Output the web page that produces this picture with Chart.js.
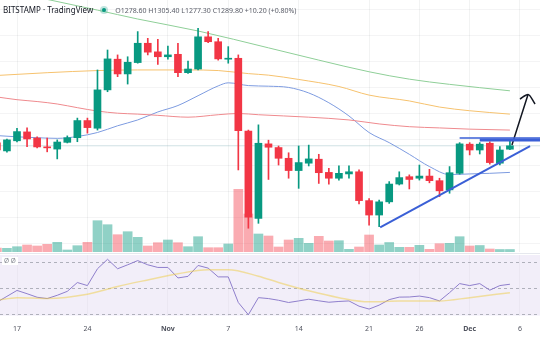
<!DOCTYPE html>
<html lang="en">
<head>
  <meta charset="UTF-8" />
  <title>BITSTAMP daily candles</title>
  <script src="https://cdn.jsdelivr.net/npm/chart.js"></script>
  <style>
    body { margin: 0; background: #fff; font-family: 'Noto Sans', sans-serif; }
    #wrap { position: relative; width: 540px; height: 340px; overflow: hidden; background: #fff; }
    #priceChart { position: absolute; left: 0; top: 0; }
    #rsiChart { position: absolute; left: 0; top: 255px; }
    .sep { position: absolute; left: 0; top: 253px; width: 540px; height: 1px; background: #e6e8ee; }
    .legend { position: absolute; left: 3px; top: 4px; font-size: 8px; line-height: 12px; color: #131722; white-space: nowrap; }
    .dot { display: inline-block; width: 4px; height: 4px; border-radius: 50%; background: #089981;
           box-shadow: 0 0 0 2px rgba(8,153,129,0.25); margin: 0 0 1px 9px; vertical-align: middle; }
    .ohlc { font-size: 7px; color: #5d606b; margin-left: 9px; }
    .rsiTag { position: absolute; left: 2px; top: 257px; font-size: 6.5px; line-height: 8px; color: #8a8d96;
              background: #fff; padding: 0 2px; }
  </style>
</head>
<body>
<div id="wrap">
  <canvas id="priceChart" width="540" height="252"></canvas>
  <div class="sep"></div>
  <canvas id="rsiChart" width="540" height="92"></canvas>
  <div class="legend">BITSTAMP · TradingView<span class="dot"></span><span class="ohlc">O1278.60 H1305.40 L1277.30 C1289.80 +10.20 (+0.80%)</span></div>
  <div class="rsiTag">Ø Ø</div>
</div>

<script>
  // day index, 0 = Oct 17
  const days = [-2, -1, 0, 1, 2, 3, 4, 5, 6, 7, 8, 9, 10, 11, 12, 13, 14, 15, 16, 17, 18, 19, 20, 21, 22, 23, 24, 25,
                26, 27, 28, 29, 30, 31, 32, 33, 34, 35, 36, 37, 38, 39, 40, 41, 42, 43, 44, 45, 46, 47, 48, 49];
  const opens  = [1299, 1273, 1306, 1335, 1315, 1286, 1279, 1301, 1316, 1372, 1347, 1472, 1572, 1524, 1561, 1624, 1596, 1580,
                  1588, 1528, 1540, 1645, 1629, 1572, 1575, 1338, 1053, 1296, 1284, 1249, 1209, 1233, 1246, 1203, 1184, 1198,
                  1205, 1111, 1064, 1107, 1165, 1189, 1184, 1191, 1176, 1146, 1200, 1295, 1276, 1298, 1233, 1278.6];
  const highs  = [1305, 1312, 1347, 1348, 1319, 1315, 1309, 1322, 1380, 1380, 1537, 1602, 1586, 1580, 1662, 1640, 1637, 1615,
                  1624, 1566, 1673, 1662, 1640, 1613, 1586, 1341, 1358, 1308, 1289, 1267, 1289, 1292, 1262, 1216, 1224, 1224,
                  1211, 1118, 1113, 1173, 1205, 1195, 1227, 1213, 1184, 1222, 1300, 1300, 1300, 1303, 1287, 1305.4];
  const lows   = [1269, 1269, 1302, 1287, 1283, 1270, 1247, 1299, 1303, 1331, 1341, 1466, 1515, 1491, 1559, 1586, 1555, 1572,
                  1515, 1526, 1537, 1626, 1569, 1559, 1211, 1021, 1037, 1180, 1227, 1184, 1151, 1224, 1167, 1165, 1178, 1184,
                  1100, 1031, 1026, 1102, 1162, 1149, 1178, 1169, 1124, 1135, 1197, 1260, 1263, 1230, 1227, 1277.3];
  const closes = [1276, 1309, 1336, 1312, 1286, 1283, 1302, 1316, 1372, 1349, 1472, 1573, 1524, 1562, 1624, 1595, 1580, 1586,
                  1528, 1540, 1645, 1629, 1573, 1575, 1339, 1057, 1298, 1285, 1249, 1209, 1235, 1247, 1202, 1184, 1200, 1205,
                  1111, 1064, 1107, 1165, 1186, 1180, 1191, 1176, 1143, 1202, 1296, 1276, 1295, 1235, 1276, 1289.8];
  // volume, thousands
  const volumes = [4.0, 3.7, 5.3, 7.0, 6.0, 7.7, 9.7, 2.0, 6.3, 9.7, 31.3, 27.3, 17.3, 20.3, 14.7, 6.0, 9.3, 12.0,
                   9.3, 5.3, 15.3, 4.3, 4.3, 8.0, 62.7, 38.0, 18.0, 16.0, 5.0, 12.0, 13.7, 8.7, 15.7, 11.0, 11.3, 2.7,
                   5.0, 17.0, 7.0, 9.5, 4.7, 4.7, 6.7, 2.7, 8.3, 8.7, 15.3, 6.0, 6.5, 3.0, 2.5, 2.5];

  const ma20Days = [-2, 0, 2, 4, 6, 8, 10, 12, 14, 16, 18, 20, 21, 23, 25, 27, 29, 31, 33, 35, 37, 39, 41, 43, 45, 47, 49];
  const ma20 = [1323, 1319, 1316, 1314, 1320, 1333, 1355, 1374, 1400, 1421, 1453, 1485, 1495, 1486, 1484, 1480, 1462,
                1430, 1387, 1333, 1300, 1262, 1222, 1196, 1198, 1200, 1203];
  const ma50Days = [-2, 0, 2, 4, 6, 8, 10, 12, 14, 17, 20, 22, 24, 29, 33, 36, 39, 42, 45, 49];
  const ma50 = [1449, 1440, 1434, 1426, 1414, 1403, 1396, 1393, 1389, 1383, 1391, 1395, 1391, 1383, 1374, 1361, 1352, 1348, 1344, 1341];
  const ma100Days = [-2, 3, 8, 12, 17, 20, 23, 25, 28, 32, 35, 39, 42, 45, 49];
  const ma100 = [1519, 1528, 1535, 1537, 1537, 1535, 1525, 1520, 1506, 1483, 1455, 1436, 1416, 1404, 1393];
  const ma200Days = [-2, 3, 8, 12, 18, 25, 30, 35, 39, 43, 49];
  const ma200 = [1802, 1767, 1732, 1703, 1664, 1609, 1569, 1531, 1507, 1490, 1469];

  const rsi = [39.5, 44, 48.5, 46, 43.3, 42.3, 44.8, 47.8, 54.5, 52.2, 65, 72.2, 65, 68, 71.2, 68, 66, 66, 58, 59.2,
               67.5, 65.5, 58.8, 58.8, 39.3, 30, 43, 42.3, 41, 39.3, 40.5, 41.8, 40.6, 39.5, 40.1, 40.5, 36.5, 34.3,
               37.3, 41.5, 43.4, 43.5, 44.2, 43, 40.5, 46.8, 53.7, 52.2, 53.7, 48.7, 52.2, 53.2];
  const rsiMaDays = [-2, 0, 3, 7, 10, 13, 16, 19, 21, 24, 26, 29, 32, 35, 38, 42, 45, 49];
  const rsiMa = [41, 43, 42.3, 45.5, 51.5, 56.5, 61.2, 64.2, 64.3, 59.3, 54.6, 48.2, 43, 39.8, 40.4, 40.5, 43, 46.8];
  const rsiLevels = [30, 50, 70];

  // drawings
  const trendDays = [36.1, 51.0];
  const trendPrices = [1024, 1289];
  const resThinDays = [44, 52];
  const resThinPrices = [1315, 1315];
  const resThickDays = [46, 52];
  const resThickPrices = [1309, 1309];
  const arrowDays = [49.2, 50.8];
  const arrowPrices = [1292, 1457];
  const headDays = [50.0, 50.8, 51.5];
  const headPrices = [1442, 1457, 1426];
  const lastPrice = 1289.8;

  const tickDays = [0, 7, 15, 21, 28, 35, 40, 45, 50];
  const tickLabels = ['17', '24', 'Nov', '7', '14', '21', '26', 'Dec', '6'];
  const gridPrices = [970, 1055, 1140, 1225, 1310, 1395, 1480, 1565, 1650, 1735];

  const X_MIN = -1.69, X_MAX = 51.99;
  const GREEN = '#089981', RED = '#f23645';
  const isUp = i => closes[i] >= opens[i];
  const pts = (xs, ys) => xs.map((x, i) => ({ x: x, y: ys[i] }));
  const lineDs = (data, color, width, extra) => Object.assign({
    type: 'line', data: data, borderColor: color, borderWidth: width, pointRadius: 0,
    cubicInterpolationMode: 'monotone', yAxisID: 'y', order: 3
  }, extra || {});

  new Chart(document.getElementById('priceChart'), {
    type: 'bar',
    data: {
      datasets: [
        { data: days.map((d, i) => ({ x: d, y: [opens[i], closes[i]] })),
          backgroundColor: c => isUp(c.dataIndex) ? GREEN : RED,
          barThickness: 7, minBarLength: 1, grouped: false, yAxisID: 'y', order: 1 },
        { data: days.map((d, i) => ({ x: d, y: [lows[i], highs[i]] })),
          backgroundColor: c => isUp(c.dataIndex) ? GREEN : RED,
          barThickness: 1, grouped: false, yAxisID: 'y', order: 2 },
        { data: days.map((d, i) => ({ x: d, y: volumes[i] })),
          backgroundColor: c => isUp(c.dataIndex) ? 'rgba(8,153,129,0.45)' : 'rgba(242,54,69,0.42)',
          barThickness: 9, grouped: false, yAxisID: 'yv', order: 10 },
        lineDs(pts([X_MIN, X_MAX], [lastPrice, lastPrice]), 'rgba(120,170,178,0.35)', 1, { order: 9 }),
        lineDs(pts(ma200Days, ma200), '#8fcf98', 1),
        lineDs(pts(ma100Days, ma100), '#f6c26e', 1),
        lineDs(pts(ma50Days, ma50), '#ef8a8e', 1),
        lineDs(pts(ma20Days, ma20), '#7d9be0', 1),
        lineDs(pts(trendDays, trendPrices), '#3a5fd6', 2, { order: 0, tension: 0 }),
        lineDs(pts(resThinDays, resThinPrices), '#3a5fd6', 1.5, { order: 0, tension: 0 }),
        lineDs(pts(resThickDays, resThickPrices), '#3a5fd6', 3, { order: 0, tension: 0 }),
        lineDs(pts(arrowDays, arrowPrices), '#131722', 1.5, { order: 0, tension: 0 }),
        lineDs(pts(headDays, headPrices), '#131722', 1.5, { order: 0, tension: 0 })
      ]
    },
    options: {
      responsive: false,
      animation: false,
      plugins: { legend: { display: false }, tooltip: { enabled: false } },
      scales: {
        x: { type: 'linear', min: X_MIN, max: X_MAX, offset: false,
             afterBuildTicks: a => { a.ticks = tickDays.map(v => ({ value: v })); },
             ticks: { display: false },
             grid: { color: 'rgba(42,46,57,0.06)', drawTicks: false, offset: false },
             border: { display: false } },
        y: { min: 943.5, max: 1765,
             afterBuildTicks: a => { a.ticks = gridPrices.map(v => ({ value: v })); },
             ticks: { display: false },
             grid: { color: 'rgba(42,46,57,0.05)', drawTicks: false },
             border: { display: false } },
        yv: { display: false, min: 0, max: 252 }
      }
    }
  });

  // light lavender fill behind the RSI pane
  const paneBg = {
    id: 'paneBg',
    beforeDraw(chart) {
      const a = chart.chartArea, ctx = chart.ctx;
      ctx.save();
      ctx.fillStyle = 'rgba(126,87,194,0.1)';
      ctx.fillRect(a.left, a.top, a.right - a.left, a.bottom - a.top);
      ctx.restore();
    }
  };

  new Chart(document.getElementById('rsiChart'), {
    type: 'line',
    data: {
      datasets: [
        { data: pts(rsiMaDays, rsiMa), borderColor: 'rgba(240,205,70,0.5)', borderWidth: 1.5, pointRadius: 0,
          cubicInterpolationMode: 'monotone' },
        { data: pts(days, rsi), borderColor: '#8f7fcc', borderWidth: 1, pointRadius: 0, tension: 0 }
      ]
    },
    options: {
      responsive: false,
      animation: false,
      layout: { padding: { bottom: 5 } },
      plugins: { legend: { display: false }, tooltip: { enabled: false } },
      scales: {
        x: { type: 'linear', min: X_MIN, max: X_MAX, offset: false,
             afterBuildTicks: a => { a.ticks = tickDays.map(v => ({ value: v })); },
             ticks: { callback: (v, i) => tickLabels[i], color: '#50535e', padding: 9, maxRotation: 0, autoSkip: false,
                      font: c => ({ family: 'Noto Sans', size: 7,
                                    weight: (c.tick && isNaN(+tickLabels[tickDays.indexOf(c.tick.value)])) ? 'bold' : 'normal' }) },
             grid: { color: 'rgba(42,46,57,0.04)', drawTicks: false },
             border: { display: false } },
        y: { min: 29.33, max: 75.47,
             afterBuildTicks: a => { a.ticks = rsiLevels.map(v => ({ value: v })); },
             ticks: { display: false },
             grid: { color: 'rgba(120,123,134,0.55)', drawTicks: false },
             border: { display: false, dash: [3, 3] } }
      }
    },
    plugins: [paneBg]
  });
</script>
</body>
</html>
